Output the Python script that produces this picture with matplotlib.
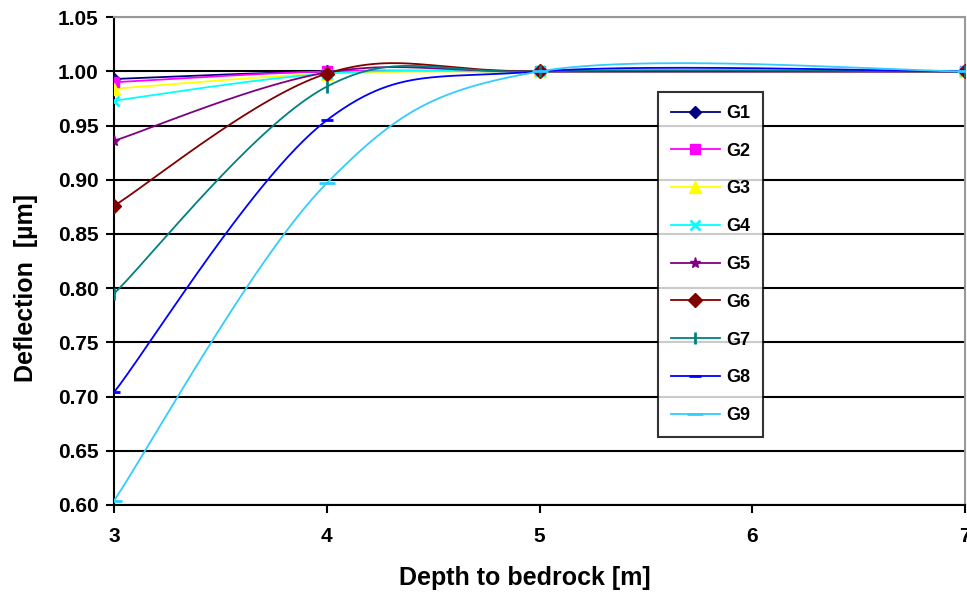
import numpy as np
import matplotlib
matplotlib.use("Agg")
import matplotlib.pyplot as plt

# depth to bedrock [m] where the model was evaluated
depth = [3, 4, 5, 7]

# normalised deflection per geophone
G1 = [0.993, 1.000, 1.000, 1.000]
G2 = [0.990, 1.000, 1.000, 1.000]
G3 = [0.984, 0.998, 1.000, 1.000]
G4 = [0.973, 0.998, 1.000, 1.000]
G5 = [0.936, 0.999, 1.000, 1.000]
G6 = [0.876, 0.998, 1.000, 1.000]
G7 = [0.795, 0.986, 1.000, 1.000]
G8 = [0.704, 0.955, 1.000, 1.000]
G9 = [0.604, 0.897, 1.000, 1.000]

names = ["G1", "G2", "G3", "G4", "G5", "G6", "G7", "G8", "G9"]
series = [G1, G2, G3, G4, G5, G6, G7, G8, G9]
colors = ["#000080", "#FF00FF", "#FFFF00", "#00FFFF", "#800080",
          "#800000", "#008080", "#0000FF", "#33CCFF"]
markers = ["D", "s", "^", "x", "*", "D", "|", "_", "_"]
msizes = [6, 7, 8, 7, 8, 7, 9, 9, 11]


def smooth(xs, ys, n=60):
    # excel-like smoothed line: cubic bezier through the points
    x = np.asarray(xs, float)
    y = np.asarray(ys, float)
    px = np.concatenate([[x[0]], x, [x[-1]]])
    py = np.concatenate([[y[0]], y, [y[-1]]])
    outx, outy = [], []
    t = np.linspace(0, 1, n)
    for i in range(1, len(px) - 2):
        x0, y0 = px[i], py[i]
        x3, y3 = px[i + 1], py[i + 1]
        x1 = x0 + (px[i + 1] - px[i - 1]) / 6
        y1 = y0 + (py[i + 1] - py[i - 1]) / 6
        x2 = x3 - (px[i + 2] - px[i]) / 6
        y2 = y3 - (py[i + 2] - py[i]) / 6
        b0 = (1 - t) ** 3
        b1 = 3 * (1 - t) ** 2 * t
        b2 = 3 * (1 - t) * t ** 2
        b3 = t ** 3
        outx.append(b0 * x0 + b1 * x1 + b2 * x2 + b3 * x3)
        outy.append(b0 * y0 + b1 * y1 + b2 * y2 + b3 * y3)
    return np.concatenate(outx), np.concatenate(outy)


plt.rcParams['font.family'] = ['Liberation Sans', 'DejaVu Sans']
plt.rcParams['font.weight'] = 'bold'

fig = plt.figure(figsize=(9.67, 5.94), dpi=100)
ax = fig.add_axes([0.118, 0.150, 0.880, 0.821])

for name, ys, c, m, ms in zip(names, series, colors, markers, msizes):
    sx, sy = smooth(depth, ys)
    ax.plot(sx, sy, color=c, lw=1.3, zorder=3)
    ax.plot(depth, ys, linestyle="none", marker=m, color=c, ms=ms,
            mew=2 if m in ("x", "|", "_") else 1, zorder=4)
    ax.plot([], [], color=c, lw=1.3, marker=m, ms=ms,
            mew=2 if m in ("x", "|", "_") else 1, label=name)

ax.set_xlim(3, 7)
ax.set_ylim(0.60, 1.05)
ax.set_xticks([3, 4, 5, 6, 7])
ax.set_yticks(np.arange(0.60, 1.051, 0.05))
ax.yaxis.set_major_formatter(matplotlib.ticker.FormatStrFormatter('%.2f'))
ax.grid(axis="y", color="black", lw=1.5, zorder=1)
ax.set_axisbelow(True)

for s in ["top", "right"]:
    ax.spines[s].set_color("#999999")
    ax.spines[s].set_linewidth(1.5)
for s in ["left", "bottom"]:
    ax.spines[s].set_linewidth(1.5)

ax.tick_params(axis="both", direction="out", length=6, width=1.5, labelsize=15)
ax.tick_params(axis="x", pad=10)
ax.tick_params(axis="y", pad=5)
for lab in ax.get_xticklabels() + ax.get_yticklabels():
    lab.set_fontweight("bold")

ax.set_xlabel("Depth to bedrock [m]", fontsize=18, fontweight="bold")
ax.set_ylabel("Deflection  [µm]", fontsize=18, fontweight="bold")
# label positions (in axes fraction)
ax.xaxis.set_label_coords(0.483, -0.125)
ax.yaxis.set_label_coords(-0.09, 0.445)

leg = ax.legend(loc="upper left", bbox_to_anchor=(0.639, 0.846),
                frameon=True, fancybox=False, edgecolor="black",
                prop={"weight": "bold", "size": 13}, handlelength=2.75,
                labelspacing=1.15, borderpad=0.7, handletextpad=0.33,
                borderaxespad=0)
leg.get_frame().set_linewidth(1.5)
leg.set_zorder(5)

fig.savefig("out.png", dpi=100)
